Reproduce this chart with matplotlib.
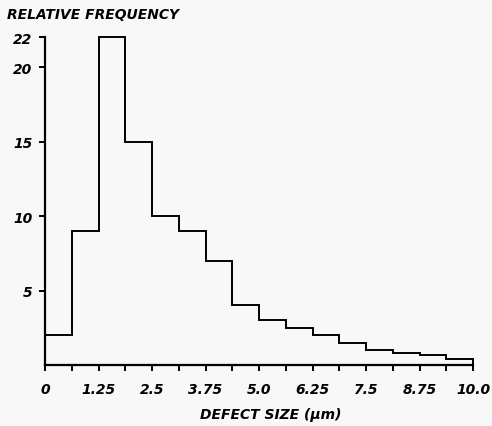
import numpy as np
import matplotlib.pyplot as plt

# histogram data
bin_edges = [0, 0.625, 1.25, 1.875, 2.5, 3.125, 3.75, 4.375, 5.0,
             5.625, 6.25, 6.875, 7.5, 8.125, 8.75, 9.375, 10.0]
rel_freq = [2, 9, 22, 15, 10, 9, 7, 4, 3, 2.5, 2, 1.5, 1, 0.8, 0.65, 0.4]

xtick_pos = [0, 1.25, 2.5, 3.75, 5.0, 6.25, 7.5, 8.75, 10.0]
xtick_labels = ['0', '1.25', '2.5', '3.75', '5.0', '6.25', '7.5', '8.75', '10.0']
ytick_pos = [5, 10, 15, 20, 22]
ytick_labels = ['5', '10', '15', '20', '22']

bg = '#f8f8f8'
fig = plt.figure(figsize=(4.92, 4.27), dpi=100, facecolor=bg)
ax = fig.add_axes([0.0915, 0.143, 0.870, 0.767])
ax.set_facecolor(bg)

ax.stairs(rel_freq, bin_edges, baseline=0, color='black', lw=1.4, clip_on=False)

ax.set_xlim(0, 10)
ax.set_ylim(0, 22)
for s in ['top', 'right']:
    ax.spines[s].set_visible(False)
for s in ['left', 'bottom']:
    ax.spines[s].set_linewidth(1.6)

font = dict(fontsize=10, fontweight='bold', fontstyle='italic', family='DejaVu Sans')
ax.set_xticks(xtick_pos)
ax.set_xticklabels(xtick_labels, **font)
ax.set_xticks(bin_edges, minor=True)
ax.set_yticks(ytick_pos)
ax.set_yticklabels(ytick_labels, **font)
ax.tick_params(axis='both', which='both', direction='out', width=1.4, length=4, pad=8)
ax.tick_params(axis='y', pad=5)

fig.text(7 / 492, 1 - 15 / 427, 'RELATIVE FREQUENCY', ha='left', va='center', **font)
fig.text(271 / 492, 1 - 415 / 427, 'DEFECT SIZE (µm)', ha='center', va='center', **font)

fig.savefig('out.png', dpi=100, facecolor=bg)
